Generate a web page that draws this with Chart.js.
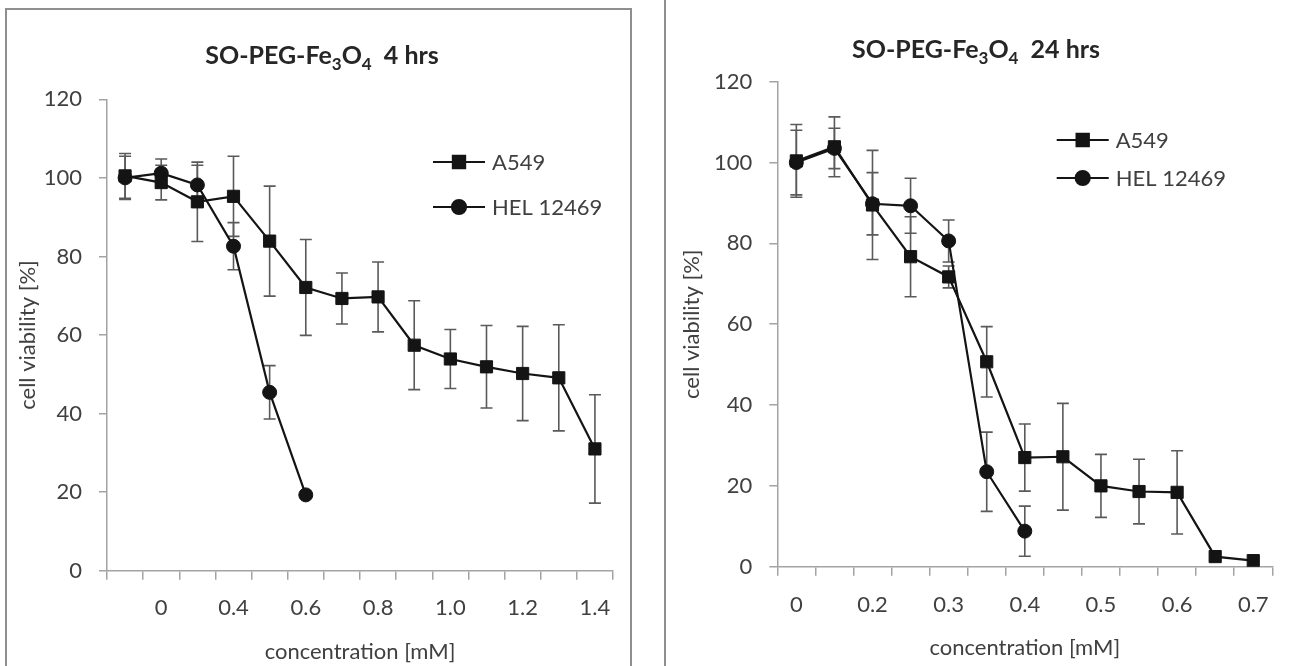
<!DOCTYPE html>
<html><head><meta charset="utf-8">
<script src="https://cdn.jsdelivr.net/npm/chart.js@4.4.1/dist/chart.umd.min.js"></script>
<style>
html,body{margin:0;padding:0;background:#fff;width:1291px;height:666px;overflow:hidden}
.b{position:absolute;background:#8f8f8f}
canvas{position:absolute;top:0}
</style></head><body>
<div class="b" style="left:5px;top:8px;width:2px;height:658px"></div>
<div class="b" style="left:5px;top:8px;width:626px;height:2px"></div>
<div class="b" style="left:630px;top:8px;width:2px;height:658px"></div>
<div class="b" style="left:664px;top:0;width:2px;height:666px"></div>
<canvas id="c1" width="640" height="666" style="left:0"></canvas>
<canvas id="c2" width="643" height="666" style="left:648px"></canvas>
<script>
// ---------- data ----------
const labels4h = ['', '0', '', '0.4', '', '0.6', '', '0.8', '', '1.0', '', '1.2', '', '1.4'];
const a549_4h = [100.5, 98.8, 93.9, 95.3, 83.9, 72.1, 69.3, 69.7, 57.4, 53.9, 51.9, 50.2, 49.1, 31.0];
const a549_4h_err = [5.7, 4.4, 10.1, 10.2, 14.0, 12.2, 6.5, 8.9, 11.3, 7.5, 10.5, 12.0, 13.5, 13.8];
const hel_4h = [100.0, 101.2, 98.2, 82.6, 45.4, 19.3, null, null, null, null, null, null, null, null];
const hel_4h_err = [5.5, 3.6, 5.0, 6.0, 6.8, 0, null, null, null, null, null, null, null, null];

const labels24h = ['0', '', '0.2', '', '0.3', '', '0.4', '', '0.5', '', '0.6', '', '0.7'];
const a549_24h = [100.4, 103.9, 89.5, 76.7, 71.7, 50.7, 27.0, 27.2, 20.0, 18.6, 18.4, 2.5, 1.5];
const a549_24h_err = [9.0, 7.4, 13.5, 9.9, 2.7, 8.7, 8.3, 13.2, 7.8, 8.0, 10.3, 0, 0];
const hel_24h = [100.0, 103.5, 89.8, 89.3, 80.6, 23.5, 8.8, null, null, null, null, null, null];
const hel_24h_err = [8.0, 5.0, 7.7, 6.8, 5.2, 9.8, 6.2, null, null, null, null, null, null];

const seriesNames = ['A549', 'HEL 12469'];
const yTitle = 'cell viability [%]';
const xTitle = 'concentration [mM]';
// title pieces: [text, isSubscript]
const title4h = [['SO-PEG-Fe', false], ['3', true], ['O', false], ['4', true], ['  4 hrs', false]];
const title24h = [['SO-PEG-Fe', false], ['3', true], ['O', false], ['4', true], ['  24 hrs', false]];

// ---------- styles ----------
const FONT = 'Lato, Carlito, "Noto Sans", sans-serif';
const TXT = '#404040';
const AXIS = '#a3a3a3';
const LINE = '#141414';

const errorBars = {
  id: 'errorBars',
  beforeDatasetsDraw(chart) {
    const {ctx, scales: {x, y}} = chart;
    ctx.save();
    ctx.strokeStyle = '#5a5a5a';
    ctx.lineWidth = 1.6;
    chart.data.datasets.forEach(ds => {
      (ds.errors || []).forEach((e, i) => {
        const v = ds.data[i];
        if (v == null || !e) return;
        const px = x.getPixelForValue(i);
        const t = y.getPixelForValue(v + e), b = y.getPixelForValue(v - e);
        ctx.beginPath();
        ctx.moveTo(px, t); ctx.lineTo(px, b);
        ctx.moveTo(px - 6, t); ctx.lineTo(px + 6, t);
        ctx.moveTo(px - 6, b); ctx.lineTo(px + 6, b);
        ctx.stroke();
      });
    });
    ctx.restore();
  }
};

const titleLegend = {
  id: 'titleLegend',
  afterDraw(chart, args, o) {
    const ctx = chart.ctx;
    ctx.save();
    // title
    const big = 'bold ' + o.titleSize + 'px ' + FONT;
    const small = 'bold ' + Math.round(o.titleSize * 0.68) + 'px ' + FONT;
    let w = 0;
    o.title.forEach(([t, sub]) => { ctx.font = sub ? small : big; w += ctx.measureText(t).width; });
    let x = o.titleX - w / 2;
    ctx.fillStyle = '#262626';
    ctx.textBaseline = 'alphabetic';
    ctx.textAlign = 'left';
    o.title.forEach(([t, sub]) => {
      ctx.font = sub ? small : big;
      ctx.fillText(t, x, o.titleY + (sub ? 6 : 0));
      x += ctx.measureText(t).width;
    });
    // legend
    chart.data.datasets.forEach((ds, i) => {
      const yy = o.legY + i * o.legGap;
      ctx.strokeStyle = LINE; ctx.lineWidth = 2.2;
      ctx.beginPath(); ctx.moveTo(o.legX, yy); ctx.lineTo(o.legX + 52, yy); ctx.stroke();
      Chart.helpers.drawPoint(ctx, {pointStyle: ds.pointStyle, radius: ds.pointRadius, borderWidth: 1}, o.legX + 26, yy);
      ctx.fillStyle = LINE;
      ctx.fill();
      ctx.font = '22px ' + FONT;
      ctx.fillStyle = TXT;
      ctx.textBaseline = 'middle';
      ctx.fillText(ds.label, o.legX + 59, yy + 1);
    });
    ctx.restore();
  }
};

function makeChart(id, labels, a, aErr, h, hErr, c) {
  const ds = (label, data, errors, style, r) => ({
    label, data, errors, pointStyle: style, pointRadius: r, pointHoverRadius: r,
    borderColor: LINE, backgroundColor: LINE, pointBackgroundColor: LINE, pointBorderColor: LINE,
    pointBorderWidth: 1, borderWidth: 2.2, tension: 0, spanGaps: false
  });
  return new Chart(document.getElementById(id), {
    type: 'line',
    data: {labels, datasets: [ds(seriesNames[0], a, aErr, 'rect', 8.6), ds(seriesNames[1], h, hErr, 'circle', 7)]},
    options: {
      responsive: false, animation: false, devicePixelRatio: 1,
      layout: {padding: {left: c.padL, top: c.top, right: c.right, bottom: 0}},
      plugins: {
        legend: {display: false}, tooltip: {enabled: false}, title: {display: false},
        titleLegend: c.tl
      },
      scales: {
        x: {
          type: 'category', offset: true,
          grid: {offset: true, drawOnChartArea: false, drawTicks: true, tickLength: 9, color: AXIS, lineWidth: 1.5},
          border: {color: AXIS, width: 1.5},
          ticks: {autoSkip: false, maxRotation: 0, minRotation: 0, padding: c.xTickPad, color: TXT, font: {family: FONT, size: 22}},
          title: {display: true, text: xTitle, color: TXT, font: {family: FONT, size: 22}, padding: {top: 0, bottom: c.xTitlePad}},
          afterFit(s) { s.height = c.xh; }
        },
        y: {
          min: 0, max: 120,
          grid: {drawOnChartArea: false, drawTicks: true, tickLength: 8, color: AXIS, lineWidth: 1.5},
          border: {color: AXIS, width: 1.5},
          ticks: {stepSize: 20, padding: 17, color: TXT, font: {family: FONT, size: 22}},
          title: {display: true, text: yTitle, color: TXT, font: {family: FONT, size: 22}, padding: {top: c.yTitlePad, bottom: 0}},
          afterFit(s) { s.width = c.yw; }
        }
      }
    },
    plugins: [errorBars, titleLegend]
  });
}

makeChart('c1', labels4h, a549_4h, a549_4h_err, hel_4h, hel_4h_err, {
  padL: 0, yw: 107, top: 99.3, right: 27, xh: 95.3, xTickPad: 15, xTitlePad: 1, yTitlePad: 15,
  tl: {title: title4h, titleSize: 25, titleX: 322, titleY: 64, legX: 433, legY: 162, legGap: 45}
});
makeChart('c2', labels24h, a549_24h, a549_24h_err, hel_24h, hel_24h_err, {
  padL: 17, yw: 112.3, top: 81.7, right: 18.7, xh: 99.3, xTickPad: 16, xTitlePad: 4.5, yTitlePad: 14,
  tl: {title: title24h, titleSize: 25, titleX: 328, titleY: 58, legX: 408.7, legY: 140, legGap: 38}
});
</script>
</body></html>
